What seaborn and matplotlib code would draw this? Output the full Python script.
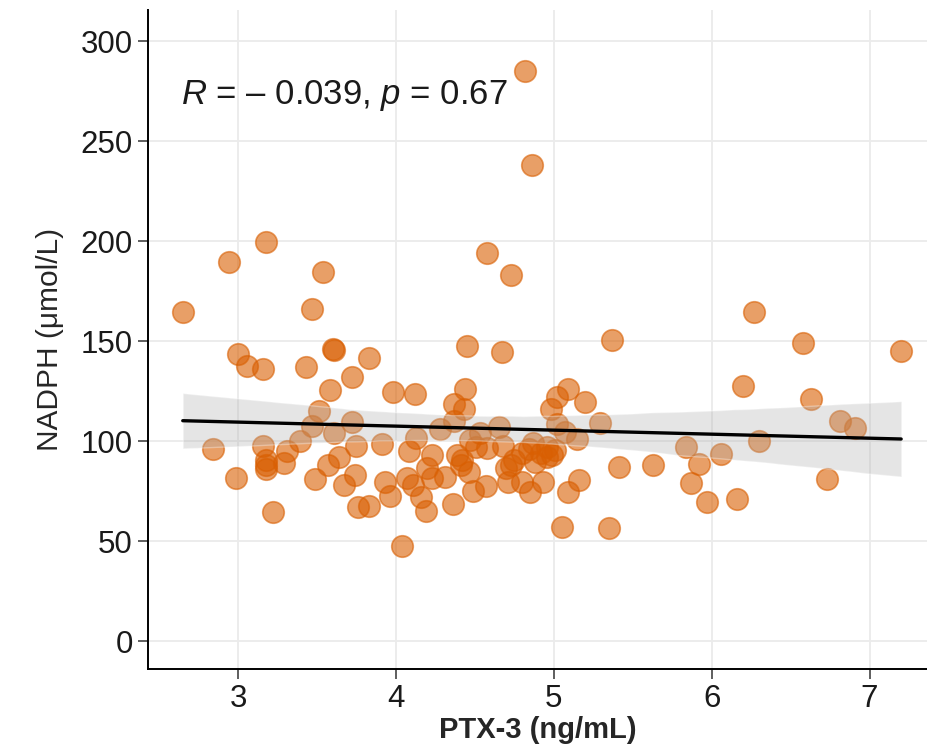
import numpy as np
import pandas as pd
import matplotlib
matplotlib.use("Agg")
import matplotlib.pyplot as plt
import seaborn as sns

# PTX-3 (ng/mL) vs NADPH (umol/L)
ptx3 = [
    2.65, 2.94, 3.18, 3.54, 3.47, 3.00, 3.06, 3.16, 3.43, 3.60,
    3.61, 3.83, 3.72, 3.58, 3.51, 2.84, 2.99, 3.22, 3.47, 3.72,
    3.61, 3.39, 3.16, 3.31, 3.75, 3.18, 3.18, 3.18, 3.29, 3.64,
    3.57, 3.49, 3.74, 3.67, 3.76, 3.83, 3.91, 3.93, 3.96, 3.98,
    4.12, 4.45, 4.67, 4.44, 4.37, 4.43, 4.37, 4.28, 4.13, 4.08,
    4.23, 4.65, 4.53, 4.47, 4.51, 4.58, 4.68, 4.39, 4.42, 4.41,
    4.46, 4.20, 4.31, 4.23, 4.11, 4.07, 4.16, 4.19, 4.36, 4.49,
    4.57, 4.70, 4.04, 4.58, 4.73, 4.82, 4.86, 4.98, 5.02, 5.09,
    5.20, 5.02, 5.07, 5.29, 5.15, 4.87, 4.96, 5.01, 4.99, 4.80,
    4.75, 4.73, 4.88, 4.96, 4.71, 4.80, 4.93, 4.85, 5.16, 5.09,
    5.41, 5.05, 5.35, 5.37, 4.84, 4.92, 6.27, 6.58, 7.20, 6.20,
    6.63, 6.81, 6.91, 6.30, 5.84, 6.06, 5.92, 5.63, 5.87, 6.73,
    5.97, 6.16,
]
nadph = [
    164.5, 189.5, 199.5, 184.5, 166.0, 143.5, 137.5, 136.0, 137.0, 146.0,
    145.5, 141.5, 132.0, 125.5, 115.0, 96.0, 81.5, 64.5, 107.5, 109.5,
    104.0, 100.0, 97.5, 95.0, 97.5, 90.5, 88.0, 86.0, 89.0, 92.0,
    88.0, 81.0, 83.0, 78.0, 67.0, 67.5, 98.5, 79.5, 72.5, 124.5,
    123.5, 147.5, 144.5, 126.0, 118.5, 116.0, 110.0, 106.0, 101.5, 95.0,
    93.0, 107.0, 104.0, 100.5, 97.0, 96.5, 97.5, 93.0, 90.5, 88.0,
    84.5, 86.5, 82.0, 81.5, 78.0, 81.5, 72.0, 65.0, 68.5, 75.0,
    77.5, 86.5, 47.5, 194.0, 183.0, 285.0, 238.0, 116.0, 122.0, 126.0,
    119.5, 108.5, 104.5, 109.0, 101.0, 99.0, 97.0, 95.5, 93.0, 94.0,
    90.5, 88.0, 89.5, 92.0, 79.5, 79.5, 79.5, 74.5, 80.5, 74.5,
    87.0, 57.0, 56.5, 150.5, 96.0, 94.0, 164.5, 149.0, 145.0, 127.5,
    121.0, 110.0, 106.5, 100.0, 97.0, 93.5, 88.5, 88.0, 79.0, 81.0,
    69.5, 71.0,
]
x_ticks = [3, 4, 5, 6, 7]
y_ticks = [0, 50, 100, 150, 200, 250, 300]
stat_label = "$\\it{R}$ = \u2013 0.039, $\\it{p}$ = 0.67"

df = pd.DataFrame({"PTX3": ptx3, "NADPH": nadph})

sns.set_theme(style="whitegrid")
plt.rcParams["font.family"] = ["Liberation Sans", "DejaVu Sans"]
plt.rcParams["mathtext.fontset"] = "custom"
plt.rcParams["mathtext.it"] = "Liberation Sans:italic"
plt.rcParams["mathtext.rm"] = "Liberation Sans"

fig = plt.figure(figsize=(9.28, 7.47), dpi=100)
ax = fig.add_axes([0.1595, 0.1044, 0.8405, 0.8822])

sns.regplot(
    data=df, x="PTX3", y="NADPH", ax=ax, color="black", ci=95,
    scatter_kws={"color": "#D95F02", "alpha": 0.6, "s": 240,
                 "edgecolors": "#D95F02", "linewidths": 1.2, "zorder": 2},
    line_kws={"linewidth": 2.4, "zorder": 4},
)
# ggplot-like grey CI band drawn over the points
for coll in ax.collections[1:]:
    coll.set_facecolor("#b0b0b0")
    coll.set_alpha(0.33)
    coll.set_zorder(3)

ax.set_xlim(2.43, 7.37)
ax.set_ylim(-14, 315.5)
ax.set_xticks(x_ticks)
ax.set_yticks(y_ticks)
ax.tick_params(axis="both", labelsize=22.5, colors="#333333", length=7,
               width=1.1, direction="out", bottom=True, left=True, pad=4)
ax.tick_params(axis="both", labelcolor="#1a1a1a")
ax.grid(color="#ebebeb", linewidth=1.3)
for side in ["top", "right"]:
    ax.spines[side].set_visible(False)
for side in ["left", "bottom"]:
    ax.spines[side].set_color("black")
    ax.spines[side].set_linewidth(1.4)

ax.set_xlabel("PTX-3 (ng/mL)", fontsize=21, fontweight="bold", labelpad=1)
ax.set_ylabel("NADPH (\u03bcmol/L)", fontsize=21.5, labelpad=12)

ax.text(2.64, 273, stat_label, fontsize=25, va="center", ha="left",
        color="#1a1a1a")

fig.savefig("out.png", dpi=100)
